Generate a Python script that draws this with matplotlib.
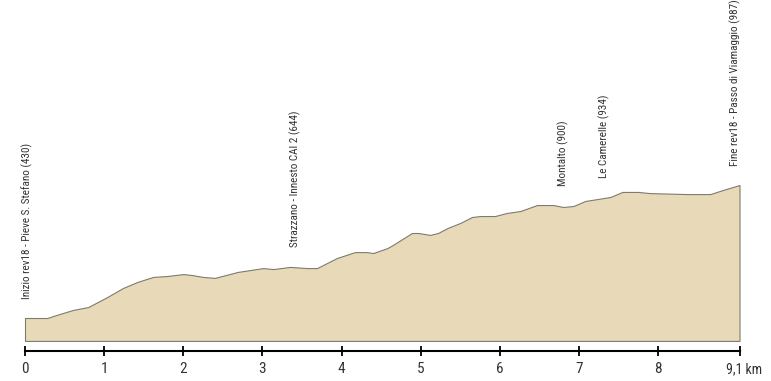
import matplotlib
matplotlib.use("Agg")
import matplotlib.pyplot as plt
from matplotlib import font_manager
from matplotlib.transforms import ScaledTranslation

# profile: distance (km) / elevation (m)
dist_km = [0.00, 0.28, 0.40, 0.61, 0.80, 1.04, 1.24, 1.42, 1.62, 1.80,
           2.00, 2.11, 2.25, 2.40, 2.69, 3.01, 3.14, 3.35, 3.57, 3.69,
           3.94, 4.17, 4.32, 4.40, 4.58, 4.65, 4.89, 4.97, 5.12, 5.22,
           5.34, 5.50, 5.65, 5.75, 5.94, 6.09, 6.26, 6.47, 6.68, 6.80,
           6.93, 7.08, 7.40, 7.55, 7.75, 7.90, 8.37, 8.66, 8.82, 9.03]
elev_m = [430, 430, 443, 464, 476, 518, 556, 581, 602, 606,
          614, 610, 602, 598, 623, 639, 635, 644, 639, 639,
          681, 706, 706, 702, 723, 736, 786, 786, 778, 786,
          807, 828, 853, 857, 857, 870, 878, 903, 903, 895,
          899, 920, 937, 958, 958, 953, 949, 949, 966, 987]

# waypoints
wp_km = [0.03, 3.41, 6.80, 7.32, 8.97]
wp_elev = [430, 644, 900, 934, 987]
wp_names = ["Inizio rev18 - Pieve S. Stefano (430)",
            "Strazzano - Innesto CAI 2 (644)",
            "Montalto (900)",
            "Le Camerelle (934)",
            "Fine rev18 - Passo di Viamaggio (987)"]

tick_pos = [0, 1, 2, 3, 4, 5, 6, 7, 8, dist_km[-1]]
tick_lab = ["0", "1", "2", "3", "4", "5", "6", "7", "8", "9,1 km"]

# look for a narrow font, the original uses a condensed face
fonts = [(f.name, f.stretch) for f in font_manager.fontManager.ttflist]
names = {n for n, _ in fonts}
stretch = "normal"
if "Liberation Sans Narrow" in names:
    fam = "Liberation Sans Narrow"
elif "Roboto Condensed" in names:
    fam = "Roboto Condensed"
elif any(n == "DejaVu Sans" and s in ("condensed", "semi-condensed") for n, s in fonts):
    fam, stretch = "DejaVu Sans", "condensed"
else:
    fam = "Roboto" if "Roboto" in names else "DejaVu Sans"
plt.rcParams["font.family"] = [fam, "DejaVu Sans"]
plt.rcParams["font.stretch"] = stretch

fig = plt.figure(figsize=(7.71, 3.81), dpi=100)
ax = fig.add_axes([0, 0, 1, 1])

base = 334
ax.fill_between(dist_km, elev_m, base, facecolor="#e8dab8",
                edgecolor="#7d7b70", linewidth=0.8)

for x, e, n in zip(wp_km, wp_elev, wp_names):
    ax.annotate(n, (x, e), xytext=(0, 14), textcoords="offset points",
                rotation=90, ha="center", va="bottom", fontsize=8,
                color="#333333")

ax.set_xlim(-0.316, 9.428)
ax.set_ylim(166.2, 1761.8)

for s in ["top", "left", "right"]:
    ax.spines[s].set_visible(False)
ax.spines["bottom"].set_position(("data", 292))
ax.spines["bottom"].set_bounds(0, dist_km[-1])
ax.spines["bottom"].set_linewidth(1.5)
ax.set_yticks([])
ax.set_xticks(tick_pos)
ax.set_xticklabels(tick_lab)
ax.tick_params(axis="x", direction="inout", length=6.5, width=1.3,
               labelsize=11, pad=5, labelcolor="#333333")
# "9,1 km" sits just right of its tick, nudge it back in
last = ax.get_xticklabels()[-1]
last.set_horizontalalignment("left")
last.set_fontsize(10)
last.set_transform(last.get_transform() + ScaledTranslation(-10 / 72, 0, fig.dpi_scale_trans))

fig.savefig("out.png", dpi=100)
